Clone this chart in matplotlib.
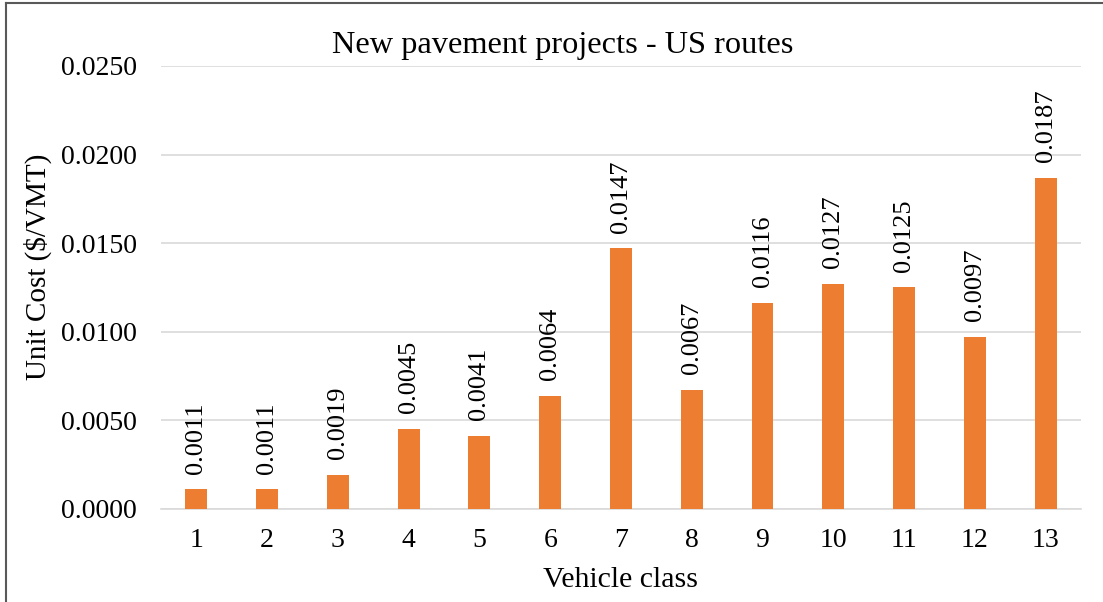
import matplotlib.pyplot as plt
from matplotlib.lines import Line2D

plt.rcParams['font.family'] = ['Liberation Serif', 'DejaVu Serif']

vehicle_class = ['1', '2', '3', '4', '5', '6', '7', '8', '9', '10', '11', '12', '13']
unit_cost = [0.0011, 0.0011, 0.0019, 0.0045, 0.0041, 0.0064, 0.0147,
             0.0067, 0.0116, 0.0127, 0.0125, 0.0097, 0.0187]

fig = plt.figure(figsize=(11.03, 6.02), dpi=100)
ax = fig.add_axes([0.146, 0.1545, 0.834, 0.736])

x = list(range(1, len(vehicle_class) + 1))
bars = ax.bar(x, unit_cost, width=0.31, color='#ED7D31', zorder=3)

for xi, v in zip(x, unit_cost):
    ax.text(xi, v + 0.0009, f'{v:.4f}', rotation=90, ha='center', va='bottom', fontsize=19)

ax.set_xlim(0.5, 13.5)
ax.set_ylim(0, 0.025)
ax.set_yticks([0, 0.005, 0.01, 0.015, 0.02, 0.025])
ax.set_yticklabels([f'{t:.4f}' for t in ax.get_yticks()])
ax.set_xticks(x)
ax.set_xticklabels(vehicle_class)
ax.tick_params(axis='x', length=0, labelsize=20, pad=14)
ax.tick_params(axis='y', length=0, labelsize=20, pad=17.5)
ax.grid(axis='y', color='#D9D9D9', linewidth=1.2, zorder=0)
for s in ['top', 'right', 'left']:
    ax.spines[s].set_visible(False)
ax.spines['bottom'].set_color('#D9D9D9')
ax.spines['bottom'].set_linewidth(1.2)

ax.set_xlabel('Vehicle class', fontsize=21.5, labelpad=10)
ax.set_ylabel('Unit Cost ($/VMT)', fontsize=21, va='center')
ax.yaxis.set_label_coords(-0.134, 0.546)
fig.text(0.51, 0.925, 'New pavement projects - US routes', fontsize=23.3, ha='center', va='center')

# outer frame (cropped at right and bottom)
fig.add_artist(Line2D([0.005, 0.005], [0, 0.995], transform=fig.transFigure, color='#595959', linewidth=1.5))
fig.add_artist(Line2D([0.005, 1.0], [0.995, 0.995], transform=fig.transFigure, color='#595959', linewidth=1.5))

fig.savefig('out.png', dpi=100)
